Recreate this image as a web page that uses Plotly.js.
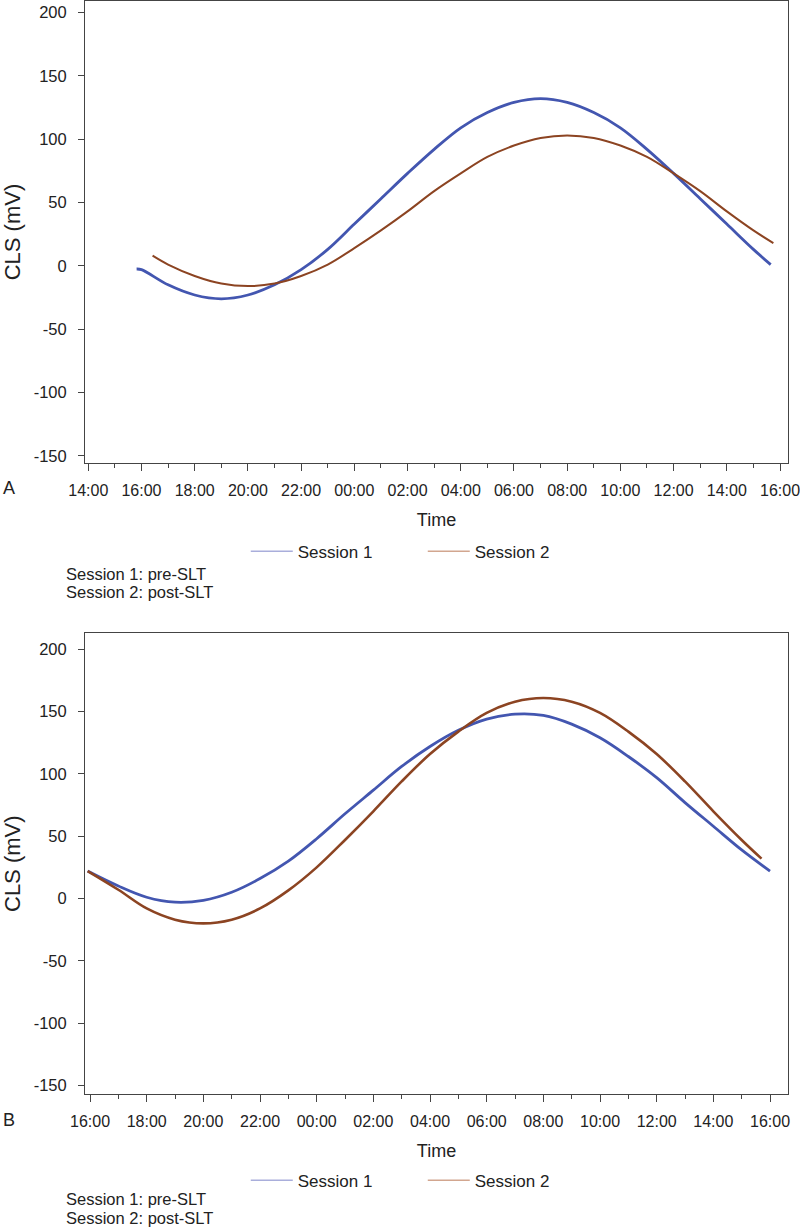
<!DOCTYPE html>
<html>
<head>
<meta charset="utf-8">
<script src="https://cdn.plot.ly/plotly-3.0.1.min.js"></script>
<style>
html,body{margin:0;padding:0;background:#fff;}
#chart{width:800px;height:1229px;}
</style>
</head>
<body>
<div id="chart"></div>
<script>
// ---------- Panel A (top) ----------
const timesA1 = ["2024-01-01 15:49","2024-01-01 16:00","2024-01-01 17:00","2024-01-01 18:00","2024-01-01 19:00","2024-01-01 20:00","2024-01-01 21:00","2024-01-01 22:00","2024-01-01 23:00","2024-01-02 00:00","2024-01-02 01:00","2024-01-02 02:00","2024-01-02 03:00","2024-01-02 04:00","2024-01-02 05:00","2024-01-02 06:00","2024-01-02 07:00","2024-01-02 08:00","2024-01-02 09:00","2024-01-02 10:00","2024-01-02 11:00","2024-01-02 12:00","2024-01-02 13:00","2024-01-02 14:00","2024-01-02 15:00","2024-01-02 15:39"];
const valuesA1 = [-2.5,-3,-15,-23,-26,-23,-15,-3,13,33,53,73,92,109,121,129,132,129,121,109,92,73,53,33,13,1];

const timesA2 = ["2024-01-01 16:25","2024-01-01 17:00","2024-01-01 18:00","2024-01-01 19:00","2024-01-01 20:00","2024-01-01 21:00","2024-01-01 22:00","2024-01-01 23:00","2024-01-02 00:00","2024-01-02 01:00","2024-01-02 02:00","2024-01-02 03:00","2024-01-02 04:00","2024-01-02 05:00","2024-01-02 06:00","2024-01-02 07:00","2024-01-02 08:00","2024-01-02 09:00","2024-01-02 10:00","2024-01-02 11:00","2024-01-02 12:00","2024-01-02 13:00","2024-01-02 14:00","2024-01-02 15:00","2024-01-02 15:45"];
const valuesA2 = [8,1,-8,-14,-16,-14,-8,1,14,28,43,59,73,86,95,101,103,101,95,86,73,59,43,28,18];

// ---------- Panel B (bottom) ----------
const timesB1 = ["2024-01-01 15:55","2024-01-01 17:00","2024-01-01 18:00","2024-01-01 19:00","2024-01-01 20:00","2024-01-01 21:00","2024-01-01 22:00","2024-01-01 23:00","2024-01-02 00:00","2024-01-02 01:00","2024-01-02 02:00","2024-01-02 03:00","2024-01-02 04:00","2024-01-02 05:00","2024-01-02 06:00","2024-01-02 07:00","2024-01-02 08:00","2024-01-02 09:00","2024-01-02 10:00","2024-01-02 11:00","2024-01-02 12:00","2024-01-02 13:00","2024-01-02 14:00","2024-01-02 15:00","2024-01-02 16:00"];
const valuesB1 = [22,10,1,-3,-1.5,5,16,30,48,68,87,106,122,135,144,148,147,140,129,114,97,77,58,39,22];

const timesB2 = ["2024-01-01 15:55","2024-01-01 17:00","2024-01-01 18:00","2024-01-01 19:00","2024-01-01 20:00","2024-01-01 21:00","2024-01-01 22:00","2024-01-01 23:00","2024-01-02 00:00","2024-01-02 01:00","2024-01-02 02:00","2024-01-02 03:00","2024-01-02 04:00","2024-01-02 05:00","2024-01-02 06:00","2024-01-02 07:00","2024-01-02 08:00","2024-01-02 09:00","2024-01-02 10:00","2024-01-02 11:00","2024-01-02 12:00","2024-01-02 13:00","2024-01-02 14:00","2024-01-02 15:00","2024-01-02 15:42"];
const valuesB2 = [22,7,-8,-17,-20,-17,-8,6.5,25,47,70,94,116,134,149,158,161,158,149,134,116,94,70,47,32];

const seriesNames = ["Session 1","Session 2"];
const yTickVals = [-150,-100,-50,0,50,100,150,200];
const yTickText = ["-150","-100","-50","0","50","100","150","200"];
const noteLines = ["Session 1: pre-SLT","Session 2: post-SLT"];
const panelLabels = ["A","B"];

const FONT = "Liberation Sans, Arial, Helvetica, sans-serif";
const BLUE = "#4356b0";
const BROWN = "#8c4422";
const BLUE_LEG = "#a9aedb";
const BROWN_LEG = "#d2a68f";

function dataTrace(x, y, name, color, width, xa, ya){
  return {x:x, y:y, name:name, type:"scatter", mode:"lines",
    line:{color:color, width:width, shape:"spline", smoothing:1},
    xaxis:xa, yaxis:ya, showlegend:false, hoverinfo:"x+y"};
}
function legendTrace(name, color, xa, ya, leg){
  return {x:[null], y:[null], name:name, type:"scatter", mode:"lines",
    line:{color:color, width:1.5}, xaxis:xa, yaxis:ya, legend:leg, showlegend:true, hoverinfo:"skip"};
}

const traces = [
  dataTrace(timesA1, valuesA1, seriesNames[0], BLUE, 2.8, "x", "y"),
  dataTrace(timesA2, valuesA2, seriesNames[1], BROWN, 2.0, "x", "y"),
  dataTrace(timesB1, valuesB1, seriesNames[0], BLUE, 2.8, "x2", "y2"),
  dataTrace(timesB2, valuesB2, seriesNames[1], BROWN, 2.6, "x2", "y2"),
  legendTrace(seriesNames[0], BLUE_LEG, "x", "y", "legend"),
  legendTrace(seriesNames[1], BROWN_LEG, "x", "y", "legend"),
  legendTrace(seriesNames[0], BLUE_LEG, "x2", "y2", "legend2"),
  legendTrace(seriesNames[1], BROWN_LEG, "x2", "y2", "legend2")
];

const H = 1229;
const frac = px => 1 - px / H;
const xfrac = px => (px - 85) / 704;

function xAxis(anchor, range, tick0){
  return {
    type:"date", anchor:anchor, domain:[0,1], range:range,
    tick0:tick0, dtick:7200000, tickformat:"%H:%M",
    showline:true, mirror:true, linecolor:"#444", linewidth:1,
    showgrid:false, zeroline:false,
    ticks:"outside", ticklen:7, tickcolor:"#444", tickwidth:1,
    ticklabelstandoff:6, ticklabeloverflow:"allow",
    minor:{dtick:3600000, ticks:"outside", ticklen:4, tickcolor:"#444", tickwidth:1, showgrid:false},
    tickfont:{family:FONT, size:16, color:"#222"},
    title:{text:"Time", font:{family:FONT, size:18, color:"#222"}, standoff:15},
    automargin:true, fixedrange:true
  };
}
function yAxis(anchor, domain, range){
  return {
    anchor:anchor, domain:domain, range:range,
    tickvals:yTickVals, ticktext:yTickText,
    showline:true, mirror:true, linecolor:"#444", linewidth:1,
    showgrid:false, zeroline:false,
    ticks:"outside", ticklen:6, tickcolor:"#444", tickwidth:1,
    ticklabelstandoff:8,
    tickfont:{family:FONT, size:16.5, color:"#222"},
    title:{text:"CLS (mV)", font:{family:FONT, size:22, color:"#222"}, standoff:14},
    automargin:true, fixedrange:true
  };
}

const legendBase = {
  orientation:"h", xanchor:"left", yanchor:"middle",
  font:{family:FONT, size:17, color:"#222"},
  bgcolor:"rgba(0,0,0,0)", borderwidth:0,
  itemwidth:42,
  entrywidth:120, entrywidthmode:"pixels", traceorder:"normal"
};

const annotations = [];
[[574,592.5],[1201,1219.5]].forEach(ys => {
  noteLines.forEach((t,i) => {
    annotations.push({text:t, xref:"paper", yref:"paper", x:xfrac(65), y:frac(ys[i]),
      xanchor:"left", yanchor:"middle", showarrow:false, borderpad:0,
      font:{family:FONT, size:16.5, color:"#222"}});
  });
});
annotations.push({text:panelLabels[0], xref:"paper", yref:"paper", x:xfrac(9), y:frac(488),
  xanchor:"center", yanchor:"middle", showarrow:false, font:{family:FONT, size:18, color:"#222"}});
annotations.push({text:panelLabels[1], xref:"paper", yref:"paper", x:xfrac(9), y:frac(1122),
  xanchor:"center", yanchor:"middle", showarrow:false, font:{family:FONT, size:18, color:"#222"}});

const layout = {
  width:800, height:1229,
  margin:{l:85, r:11, t:0, b:0, pad:0},
  paper_bgcolor:"#ffffff", plot_bgcolor:"#ffffff",
  font:{family:FONT, color:"#222"},
  showlegend:true,
  xaxis: xAxis("y", ["2024-01-01 13:52:36","2024-01-02 16:18:00"], "2024-01-01 14:00"),
  yaxis: yAxis("x", [frac(462.7), frac(0.5)], [-155.3, 208.7]),
  xaxis2: xAxis("y2", ["2024-01-01 15:49:24","2024-01-02 16:38:06"], "2024-01-01 16:00"),
  yaxis2: yAxis("x2", [frac(1095.7), frac(634)], [-157, 212.8]),
  legend: Object.assign({}, legendBase, {x:xfrac(246), y:frac(552)}),
  legend2: Object.assign({}, legendBase, {x:xfrac(246), y:frac(1182.7)}),
  annotations: annotations
};

Plotly.newPlot("chart", traces, layout, {displayModeBar:false, staticPlot:true});
</script>
</body>
</html>
